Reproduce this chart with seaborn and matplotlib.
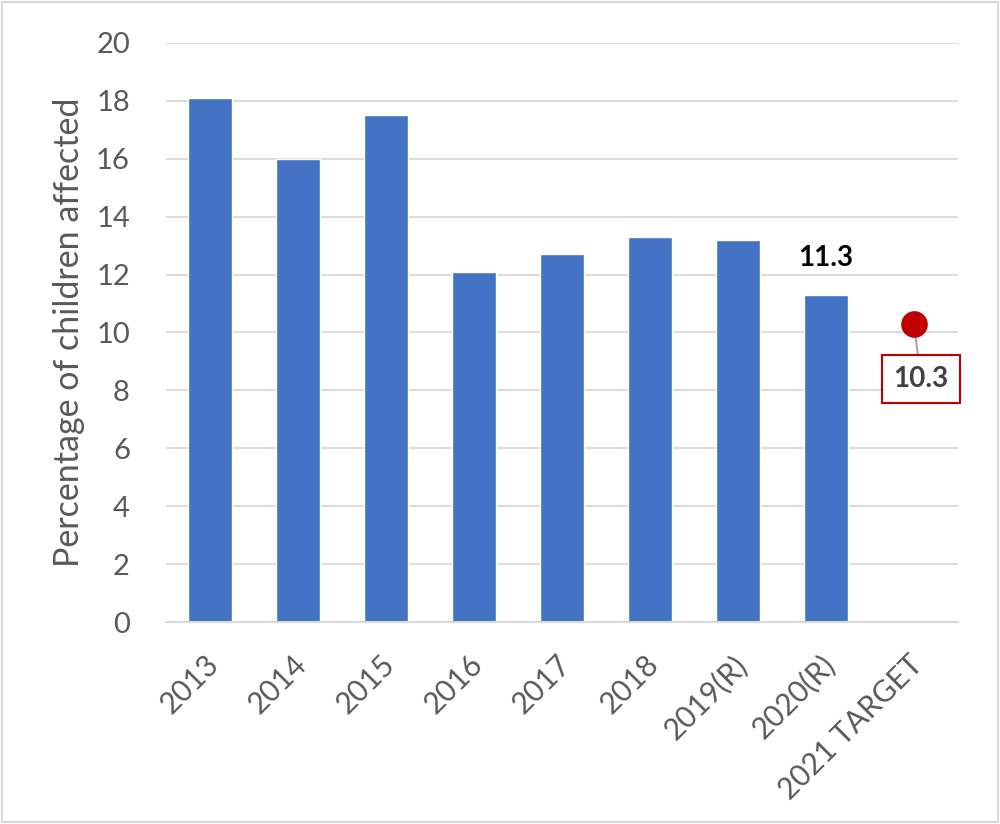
#!/usr/bin/env python3

import pandas as pd
import matplotlib.pyplot as plt
import matplotlib.transforms as mtransforms
import seaborn as sns
from matplotlib.patches import Rectangle

# ======================================================
# DATA
# ======================================================
CATEGORIES = ["2013", "2014", "2015", "2016", "2017", "2018",
              "2019(R)", "2020(R)", "2021 TARGET"]
BAR_YEARS = ["2013", "2014", "2015", "2016", "2017", "2018", "2019(R)", "2020(R)"]
BAR_VALUES = [18.1, 16.0, 17.5, 12.1, 12.7, 13.3, 13.2, 11.3]
TARGET_LABEL = "2021 TARGET"
TARGET_VALUE = 10.3
LABELLED_BAR = "2020(R)"
Y_TICKS = [0, 2, 4, 6, 8, 10, 12, 14, 16, 18, 20]

BAR_COLOR = "#4472C4"
GRID_COLOR = "#D9D9D9"
TEXT_COLOR = "#595959"
TARGET_COLOR = "#C00000"

# ======================================================
# PLOTTING
# ======================================================
sns.set_style("white")
plt.rcParams["font.family"] = ["Lato", "DejaVu Sans"]

df = pd.DataFrame({"Year": BAR_YEARS, "Value": BAR_VALUES})

fig = plt.figure(figsize=(10, 8.24), dpi=100)
ax = fig.add_axes([0.166, 0.245, 0.792, 0.703])

sns.barplot(
    data=df,
    x="Year",
    y="Value",
    order=CATEGORIES,
    color=BAR_COLOR,
    saturation=1,
    width=0.5,
    ax=ax,
)

ax.set_ylim(0, 20)
ax.set_xlim(-0.5, len(CATEGORIES) - 0.5)
ax.set_yticks(Y_TICKS)
ax.set_yticklabels([str(t) for t in Y_TICKS], fontsize=21, color=TEXT_COLOR)
ax.set_xticks(range(len(CATEGORIES)))
ax.set_xticklabels(CATEGORIES, rotation=45, ha="right", rotation_mode="anchor",
                   fontsize=21.5, color=TEXT_COLOR)
ax.tick_params(axis="both", length=0)
ax.tick_params(axis="y", pad=26)
ax.tick_params(axis="x", pad=20)

# nudge the rotated labels left, like the spreadsheet layout
shift = mtransforms.ScaledTranslation(-6 / 100, 0, fig.dpi_scale_trans)
for lbl in ax.get_xticklabels():
    lbl.set_transform(lbl.get_transform() + shift)

ax.set_xlabel("")
ax.set_ylabel("Percentage of children affected", fontsize=24.5, color=TEXT_COLOR, labelpad=8)

ax.yaxis.grid(True, color=GRID_COLOR, linewidth=1.3)
ax.set_axisbelow(True)
for side in ["left", "right", "top"]:
    ax.spines[side].set_visible(False)
ax.spines["bottom"].set_color(GRID_COLOR)
ax.spines["bottom"].set_linewidth(1.5)

# value label on the last measured bar
idx = CATEGORIES.index(LABELLED_BAR)
ax.annotate(f"{BAR_VALUES[BAR_YEARS.index(LABELLED_BAR)]:.1f}",
            xy=(idx, BAR_VALUES[BAR_YEARS.index(LABELLED_BAR)]),
            xytext=(0, 17), textcoords="offset points",
            ha="center", va="bottom", fontsize=20, fontweight="bold", color="black")

# target point with boxed label
tidx = CATEGORIES.index(TARGET_LABEL)
ax.scatter([tidx], [TARGET_VALUE], s=330, color=TARGET_COLOR, zorder=5, clip_on=False)
ax.annotate(f"{TARGET_VALUE:.1f}",
            xy=(tidx, TARGET_VALUE),
            xytext=(5, -40), textcoords="offset points",
            ha="center", va="center", fontsize=20, fontweight="bold", color="#404040",
            bbox=dict(boxstyle="square,pad=0.4", fc="white", ec=TARGET_COLOR, lw=1.5),
            arrowprops=dict(arrowstyle="-", color="#A6A6A6", lw=1.5, shrinkA=0, shrinkB=0),
            zorder=4)

# outer border
fig.patches.append(Rectangle((0.002, 0.002), 0.996, 0.996, transform=fig.transFigure,
                             fill=False, ec="#D9D9D9", lw=1.5))

fig.savefig("out.png", dpi=100)
